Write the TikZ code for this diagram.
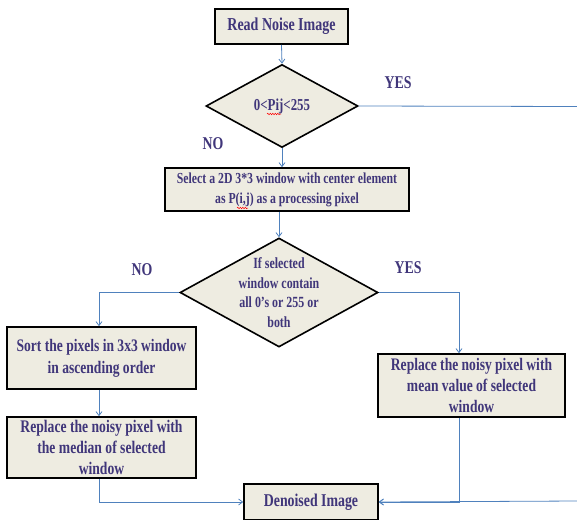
\documentclass[tikz,border=0pt]{standalone}
\usepackage{fontspec}
\setmainfont{Liberation Serif}[FakeStretch=0.77]
\usetikzlibrary{shapes.geometric,arrows.meta,decorations.pathmorphing}
\definecolor{boxfill}{HTML}{EEECE1}
\definecolor{txtc}{HTML}{40367A}
\definecolor{linec}{HTML}{4F81BD}
\begin{document}
\begin{tikzpicture}[x=1pt,y=-1pt,
  box/.style={draw=black, line width=1.6pt, fill=boxfill, inner sep=0pt, align=center, text=txtc},
  dia/.style={draw=black, line width=1.6pt, fill=boxfill, diamond, inner sep=0pt},
  dtxt/.style={align=center, text=txtc, inner sep=0pt},
  conn/.style={draw=linec, line width=0.8pt},
  arr/.style={conn, -{Straight Barb[length=4pt,width=6pt]}},
  lbl/.style={text=txtc, font=\bfseries\fontsize{18}{18}\selectfont},
  squig/.style={red, line width=0.5pt, decorate, decoration={snake, amplitude=0.7pt, segment length=2.5pt}}]

\useasboundingbox (0,0) rectangle (577,519);

% nodes
\node[box, minimum width=133pt, minimum height=35pt, font=\bfseries\fontsize{18.2}{19}\selectfont] (read) at (281.5,26.5) {Read Noise Image};

\node[dia, minimum width=152pt, minimum height=83pt] (d1) at (282,106) {};
\node[dtxt, font=\bfseries\fontsize{16.7}{17}\selectfont] (d1t) at (d1) {0<Pij<255};
\draw[squig] (267,114) -- (281,114);

\node[box, minimum width=244pt, minimum height=43pt, font=\bfseries\fontsize{15.3}{20}\selectfont] (sel) at (287,189.5) {Select a 2D 3*3 window with  center element\\ as P(i,j) as a processing pixel};
\draw[squig] (237,208) -- (248,208);

\node[dia, minimum width=198pt, minimum height=109pt] (d2) at (279,292.5) {};
\node[dtxt, font=\bfseries\fontsize{15.5}{19.5}\selectfont] (d2t) at (d2) {If selected\\ window contain\\ all 0’s or 255 or\\ both};

\node[box, minimum width=189pt, minimum height=62pt, font=\bfseries\fontsize{17.6}{22}\selectfont] (sort) at (101.5,358) {Sort the pixels in 3x3 window\\ in ascending order};

\node[box, minimum width=189pt, minimum height=61pt, font=\bfseries\fontsize{17.7}{21}\selectfont] (median) at (101.5,447.5) {Replace the noisy pixel with\\ the median of selected\\ window};

\node[box, minimum width=187pt, minimum height=63pt, font=\bfseries\fontsize{17.6}{21}\selectfont] (mean) at (471.5,385.5) {Replace the noisy pixel with\\ mean value of selected\\ window};

\node[box, minimum width=134pt, minimum height=36pt, font=\bfseries\fontsize{18}{19}\selectfont] (den) at (311,502) {Denoised Image};

% labels
\node[lbl] (yes1) at (398,83) {YES};
\node[lbl] (no1) at (213,144) {NO};
\node[lbl] (no2) at (142,270) {NO};
\node[lbl] (yes2) at (408,268) {YES};

% connectors
\coordinate (r1) at (577,106.5);
\coordinate (r2) at (577,501);
\draw[arr] (read.south) -- (d1.north);
\draw[conn] (d1.east) -- (r1);
\draw[arr] (d1.south) -- (d1.south |- sel.north);
\draw[arr] (d2.north |- sel.south) -- (d2.north);
\draw[arr] (d2.west) -| ([xshift=-2.5pt]sort.north);
\draw[arr] ([xshift=-2.5pt]sort.south) -- ([xshift=-2.5pt]median.north);
\draw[arr] ([xshift=-2.5pt]median.south) |- (den.west);
\draw[arr] (d2.east) -| ([xshift=-12.5pt]mean.north);
\draw[arr] ([xshift=-12.5pt]mean.south) |- (den.east);
\draw[arr] (r2) -- (den.east);
\end{tikzpicture}
\end{document}
